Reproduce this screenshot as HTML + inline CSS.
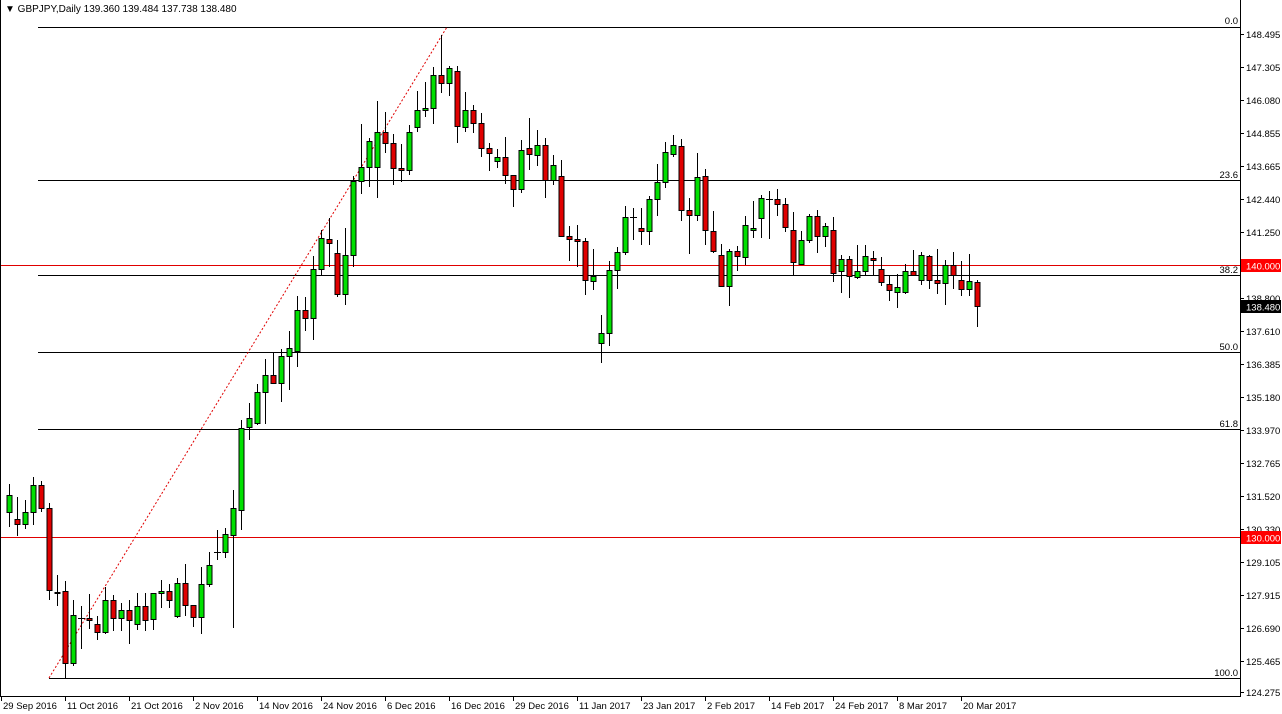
<!DOCTYPE html>
<html><head><meta charset="utf-8"><style>
html,body{margin:0;padding:0;background:#fff;}
svg{display:block;font-family:"Liberation Sans",sans-serif;font-size:9.5px;}
</style></head><body>
<svg id="s" width="1282" height="714" xmlns="http://www.w3.org/2000/svg">
<rect width="1282" height="714" fill="#fff"/>
<g id="fib" stroke="#000" stroke-width="1">
<line x1="38" y1="27.5" x2="1240" y2="27.5"/>
<line x1="38" y1="180.5" x2="1240" y2="180.5"/>
<line x1="38" y1="275.5" x2="1240" y2="275.5"/>
<line x1="38" y1="352.5" x2="1240" y2="352.5"/>
<line x1="38" y1="429.5" x2="1240" y2="429.5"/>
<line x1="49" y1="678.5" x2="1240" y2="678.5"/>
</g>
<line x1="0" y1="265.5" x2="1240" y2="265.5" stroke="#e00000"/>
<line x1="0" y1="537.5" x2="1240" y2="537.5" stroke="#e00000"/>
<line x1="49" y1="678" x2="447" y2="27" stroke="#e00000" stroke-dasharray="2,2"/>
<g text-anchor="end" fill="#000">
<text x="1238" y="24">0.0</text>
<text x="1238" y="178">23.6</text>
<text x="1238" y="273">38.2</text>
<text x="1238" y="350">50.0</text>
<text x="1238" y="427">61.8</text>
<text x="1238" y="676">100.0</text>
</g>
<g id="c"></g>
<line x1="1240.5" y1="0" x2="1240.5" y2="697" stroke="#000"/>
<line x1="0" y1="696.5" x2="1241" y2="696.5" stroke="#000"/>
<line x1="0.5" y1="0" x2="0.5" y2="697" stroke="#000"/>
<g id="ax" fill="#000"></g>
<text x="5" y="12" fill="#000" font-size="10">▼ GBPJPY,Daily  139.360 139.484 137.738 138.480</text>
</svg>
<script>
var C=[
[9,512,495,484,527],[17,519,524,497,536],[25,524,512,500,529],[33,512,485,477,525],[41,485,508,481,512],
[49,508,590,503,600],[57,593,592,575,606],[65,591,663,581,678],[73,663,615,600,666],[81,618,618,606,649],
[89,618,620,594,629],[97,624,632,616,640],[105,632,600,587,634],[113,600,618,595,631],[121,618,610,603,631],
[129,610,620,600,644],[137,624,606,593,630],[145,606,620,593,631],[153,619,593,593,630],[161,593,591,580,608],
[169,591,600,584,608],[177,616,583,578,618],[185,583,605,564,616],[193,605,617,605,627],[201,617,584,567,634],
[209,584,565,552,587],[217,552,552,530,560],[225,552,534,528,558],[233,535,508,490,628],[241,510,428,420,530],
[249,427,418,403,440],[257,423,392,384,425],[265,392,375,359,424],[273,375,383,352,384],[281,383,356,349,402],
[289,356,348,331,390],[297,351,310,296,367],[305,310,318,297,331],[313,318,269,256,340],[321,269,238,230,276],
[329,239,243,218,267],[337,253,294,240,297],[345,294,255,228,305],[353,255,181,176,267],[361,181,167,124,194],
[369,167,141,138,187],[377,167,132,101,198],[385,132,143,112,153],[393,143,168,134,185],[401,168,170,144,182],
[409,170,132,125,175],[417,127,110,91,132],[425,110,108,82,117],[433,108,75,67,124],[441,75,83,35,93],
[449,83,68,66,96],[457,71,126,66,143],[465,127,110,92,132],[473,110,123,105,133],[481,123,148,113,157],
[489,148,153,143,171],[497,161,157,149,168],[505,157,175,137,184],[513,175,189,175,207],[521,189,150,140,193],
[529,148,154,118,170],[537,155,145,130,166],[545,145,180,138,198],[553,180,165,155,185],[561,176,236,160,236],
[569,236,239,226,261],[577,239,241,225,267],[585,241,280,238,295],[593,281,276,249,290],[601,343,333,315,363],
[609,333,270,261,346],[617,270,252,247,289],[625,252,217,206,255],[633,217,217,208,240],[641,228,231,208,245],
[649,231,199,196,245],[657,199,182,164,216],[665,182,152,142,188],[673,154,145,135,157],[681,146,210,139,221],
[689,210,215,198,254],[697,215,177,153,221],[705,176,230,169,245],[713,231,251,211,253],[721,255,286,244,287],
[729,286,251,249,306],[737,251,256,246,271],[745,257,225,216,265],[753,230,228,201,238],[761,218,198,195,238],
[769,199,199,191,239],[777,199,204,189,216],[785,204,227,198,232],[793,230,262,212,275],[801,264,240,231,264],
[809,240,216,214,243],[817,216,236,210,253],[825,236,226,223,247],[833,230,273,217,282],[841,271,259,255,293],
[849,259,276,256,298],[857,277,271,245,279],[865,271,256,245,276],[873,258,260,251,276],[881,269,282,257,286],
[889,284,290,276,301],[897,292,287,274,308],[905,292,271,264,294],[913,271,275,250,276],[921,280,255,252,285],
[929,256,280,255,289],[937,280,283,249,294],[945,283,265,260,305],[953,265,275,252,289],[961,280,289,261,296],
[969,289,281,254,296],[977,282,306,280,327]];
var h='';
C.forEach(function(c){var x=c[0],o=c[1],cl=c[2],hi=c[3],lo=c[4];
h+='<line x1="'+(x+.5)+'" y1="'+hi+'" x2="'+(x+.5)+'" y2="'+lo+'" stroke="#000"/>';
if(o==cl){h+='<line x1="'+(x-3)+'" y1="'+(o+.5)+'" x2="'+(x+4)+'" y2="'+(o+.5)+'" stroke="#000"/>';}
else{var t=Math.min(o,cl),b=Math.max(o,cl),f=cl<o?'#00e000':'#e00000';
h+='<rect x="'+(x-2)+'" y="'+(t+.5)+'" width="5" height="'+(b-t)+'" fill="'+f+'" stroke="#000"/>';}
});
document.getElementById('c').innerHTML=h;
var P=[["148.495",34],["147.305",67],["146.080",100],["144.855",133],["143.665",166],["142.440",199],["141.250",232],["138.800",298],["137.610",331],["136.385",364],["135.180",397],["133.970",430],["132.765",463],["131.520",496],["130.330",529],["129.105",562],["127.915",595],["126.690",628],["125.465",661],["124.275",692]];
var a='';
P.forEach(function(p){a+='<line x1="1240" y1="'+(p[1]+.5)+'" x2="1244" y2="'+(p[1]+.5)+'" stroke="#000"/><text x="1246" y="'+(p[1]+4)+'">'+p[0]+'</text>';});
a+='<rect x="1241" y="259" width="40" height="13" fill="#ff0000"/><text x="1246" y="269.5" fill="#fff">140.000</text>';
a+='<rect x="1241" y="300" width="40" height="13" fill="#000"/><text x="1246" y="310.5" fill="#fff">138.480</text>';
a+='<rect x="1241" y="531" width="40" height="13" fill="#ff0000"/><text x="1246" y="541.5" fill="#fff">130.000</text>';
var D=["29 Sep 2016","11 Oct 2016","21 Oct 2016","2 Nov 2016","14 Nov 2016","24 Nov 2016","6 Dec 2016","16 Dec 2016","29 Dec 2016","11 Jan 2017","23 Jan 2017","2 Feb 2017","14 Feb 2017","24 Feb 2017","8 Mar 2017","20 Mar 2017"];
D.forEach(function(d,i){var x=1+i*64;a+='<line x1="'+(x+.5)+'" y1="696" x2="'+(x+.5)+'" y2="701" stroke="#000"/><text x="'+(x+2)+'" y="709">'+d+'</text>';});
document.getElementById('ax').innerHTML=a;
</script>
</body></html>
